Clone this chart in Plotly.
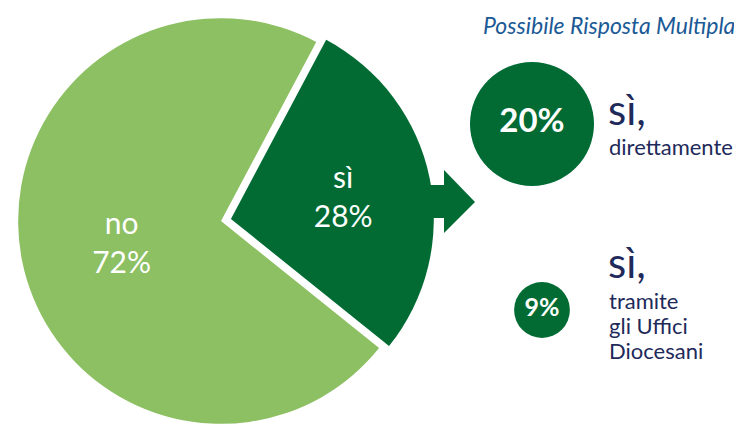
import plotly.graph_objects as go

# ---- data ----
pie_labels = ["sì", "no"]
pie_values = [28, 72]
detail_labels = ["20%", "9%"]
detail_values = [20, 9]
detail_titles = ["sì,", "sì,"]
detail_lines = [["direttamente"], ["tramite", "gli Uffici", "Diocesani"]]
subtitle = "Possibile Risposta Multipla"

# ---- styles ----
W, H = 742, 426
OFF = 8  # page offset of the figure (body margin)
LIGHT = "#8cc063"
DARK = "#016b33"
NAVY = "#1e2a5a"
BLUE = "#1b5a96"
FONT = "Lato"

fig = go.Figure()

fig.add_trace(go.Pie(
    labels=pie_labels,
    values=pie_values,
    sort=False,
    direction="clockwise",
    rotation=28,
    pull=[0.05, 0],
    marker=dict(colors=[DARK, LIGHT], line=dict(width=0)),
    texttemplate="%{label}<br>%{percent:.0%}",
    textposition="inside",
    insidetextorientation="horizontal",
    textfont=dict(family=FONT, size=30, color="white"),
    hoverinfo="skip",
    domain=dict(x=[0, 426 / W], y=[0, 1]),
))

# circles sized by value (diameter proportional to value)
circle_x = [532, 542]
circle_y = [124, 310]
px_per_unit = 6.2
fig.add_trace(go.Scatter(
    x=circle_x,
    y=circle_y,
    mode="markers+text",
    marker=dict(size=[v * px_per_unit for v in detail_values], color=DARK,
                line=dict(width=0), opacity=1),
    text=detail_labels,
    textposition="middle center",
    textfont=dict(family=FONT, size=[33, 25], color="white", weight="bold"),
    hoverinfo="skip",
    xaxis="x2", yaxis="y2",
    cliponaxis=False,
))

# arrow
fig.add_shape(type="path", xref="x2", yref="y2", layer="below",
              path="M 400 185 L 444 185 L 444 170 L 475 202 L 444 233 L 444 218 L 400 218 Z",
              fillcolor=DARK, line=dict(width=0))

ann = []
ann.append(dict(text=subtitle, x=737, y=OFF + 1, xanchor="right", yanchor="top",
                font=dict(family=FONT, size=23, color=BLUE, style="italic")))
title_y = [109, 262]
for t, ty in zip(detail_titles, title_y):
    ann.append(dict(text=t, x=606, y=ty, xanchor="left", yanchor="middle",
                    font=dict(family=FONT, size=42, color=NAVY)))
line_y = [[146], [300, 325, 350]]
for lines, ys in zip(detail_lines, line_y):
    for ln, yy in zip(lines, ys):
        ann.append(dict(text=ln, x=607, y=yy, xanchor="left", yanchor="middle",
                        font=dict(family=FONT, size=22, color=NAVY)))
for a in ann:
    a.update(xref="x2", yref="y2", showarrow=False)

fig.update_layout(
    width=W, height=H,
    margin=dict(l=0, r=0, t=0, b=0),
    paper_bgcolor="white", plot_bgcolor="rgba(0,0,0,0)",
    showlegend=False,
    xaxis2=dict(range=[OFF, W + OFF], domain=[0, 1], visible=False, fixedrange=True),
    yaxis2=dict(range=[H + OFF, OFF], domain=[0, 1], visible=False, fixedrange=True),
    annotations=ann,
)

fig.write_html("out.html")
